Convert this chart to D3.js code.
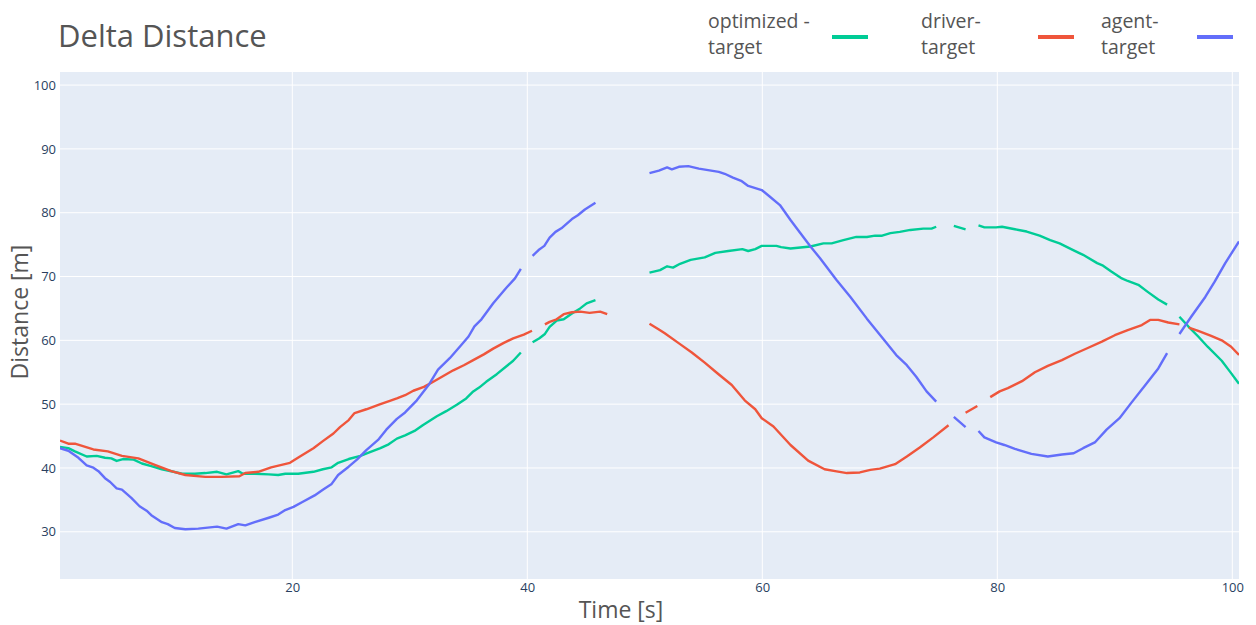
<!DOCTYPE html>
<html>
<head>
<meta charset="utf-8">
<script src="https://cdn.jsdelivr.net/npm/d3@7"></script>
<style>
  html, body { margin: 0; padding: 0; background: #fff; }
  svg { display: block; font-family: "Open Sans", "DejaVu Sans", sans-serif; }
</style>
</head>
<body>
<svg id="chart" width="1256" height="625"></svg>
<script>
// Time samples [s] and distances [m] per series; null marks missing samples.
const optTime = [0.23,0.94,1.5,2.5,3.35,4.06,4.6,5.05,5.6,6.5,7.2,8.0,8.9,9.9,10.6,11.7,12.6,13.6,14.4,15.4,15.8,16.8,18.0,18.8,19.4,20.5,21.8,22.6,23.35,23.9,24.8,25.8,26.5,27.5,28.2,28.9,29.6,30.4,31.1,32.3,33.1,34.0,34.8,35.4,35.9,36.5,37.4,38.2,38.8,39.45,39.9,40.45,41.0,41.5,41.9,42.5,43.1,43.8,44.5,45.05,45.8,48.0,50.4,51.3,51.9,52.4,53.0,53.9,55.1,56.0,57.1,58.3,58.8,59.4,59.95,61.2,61.6,62.4,64.1,65.2,65.9,66.9,68.0,68.9,69.6,70.2,70.9,71.7,72.6,73.7,74.4,74.8,75.5,76.3,77.3,77.8,78.4,78.9,79.9,80.4,81.5,82.5,83.6,84.5,85.3,86.5,87.3,88.5,89.0,89.7,90.6,91.1,92.0,92.8,93.7,94.45,95.0,95.5,96.25,97.1,97.9,99.1,99.8,100.57];
const optDist = [43.3,43.1,42.6,41.8,41.9,41.6,41.5,41.1,41.4,41.3,40.7,40.3,39.8,39.4,39.1,39.1,39.2,39.4,39.0,39.5,39.1,39.1,39.0,38.9,39.1,39.1,39.4,39.8,40.1,40.8,41.4,41.9,42.4,43.1,43.7,44.6,45.1,45.8,46.7,48.1,48.9,49.9,50.9,52.0,52.6,53.5,54.7,55.9,56.8,58.1,null,59.7,60.3,61.0,62.1,63.1,63.3,64.2,65.0,65.8,66.3,null,70.6,71.0,71.6,71.4,72.0,72.6,73.0,73.7,74.0,74.3,74.0,74.3,74.8,74.8,74.6,74.4,74.7,75.2,75.2,75.7,76.2,76.2,76.4,76.4,76.8,77.0,77.3,77.5,77.5,77.8,null,77.95,77.4,null,78.0,77.7,77.7,77.8,77.4,77.05,76.4,75.7,75.2,74.1,73.4,72.1,71.7,70.8,69.7,69.3,68.7,67.6,66.4,65.6,null,63.7,62.2,60.6,59.0,56.8,55.1,53.2];

const drvTime = [0.23,0.94,1.5,3.07,4.3,5.5,6.9,8.3,9.7,10.9,12.6,14.0,15.5,16.0,17.1,18.2,19.8,20.65,21.8,22.6,23.5,24.06,24.8,25.3,26.3,27.5,28.3,28.9,29.6,30.3,31.2,32.0,32.85,33.7,34.6,35.4,36.3,37.1,38.0,38.8,39.7,40.4,41.0,41.5,41.9,42.5,43.1,43.8,44.5,45.3,46.2,46.8,48.0,50.4,51.2,51.7,52.85,54.0,55.1,56.2,57.4,58.5,59.4,59.95,60.95,62.4,63.9,65.3,66.2,67.2,68.3,69.2,70.0,71.3,72.3,73.4,74.55,75.85,76.5,77.3,78.3,78.8,79.4,80.2,80.9,82.1,83.2,84.3,85.5,86.6,87.7,88.9,90.0,91.1,92.3,93.0,93.7,94.55,95.5,95.9,96.3,97.1,98.2,99.1,99.9,100.57];
const drvDist = [44.3,43.8,43.8,42.9,42.6,41.9,41.5,40.5,39.5,38.9,38.6,38.6,38.7,39.2,39.4,40.1,40.8,41.8,43.1,44.2,45.4,46.4,47.5,48.6,49.2,50.0,50.5,50.9,51.4,52.1,52.7,53.5,54.4,55.3,56.1,56.9,57.8,58.7,59.6,60.3,60.9,61.5,null,62.5,62.9,63.3,64.1,64.4,64.5,64.3,64.5,64.1,null,62.6,61.7,61.1,59.6,58.1,56.5,54.8,53.0,50.6,49.2,47.8,46.5,43.6,41.15,39.8,39.5,39.2,39.3,39.7,39.9,40.6,41.8,43.2,44.8,46.7,null,48.65,49.7,null,51.1,52.0,52.5,53.6,55.0,56.0,56.9,57.9,58.8,59.8,60.8,61.6,62.4,63.2,63.2,62.8,62.5,null,62.0,61.5,60.7,60.0,59.0,57.7];

const agtTime = [0.23,0.94,1.8,2.5,3.07,3.5,4.06,4.5,5.05,5.5,6.3,7.0,7.6,8.0,8.9,9.4,10.0,10.9,12.0,13.6,14.4,15.4,16.0,16.8,18.0,18.8,19.4,20.1,20.9,21.9,22.6,23.35,23.9,24.8,25.5,26.3,27.3,28.0,28.9,29.6,30.6,31.6,32.4,33.4,34.4,35.0,35.5,36.1,37.1,38.2,38.95,39.45,39.9,40.45,40.96,41.45,41.9,42.4,42.9,43.8,44.3,44.9,45.8,48.0,50.4,51.2,51.9,52.3,52.9,53.7,54.6,56.3,56.8,57.5,58.2,58.8,59.95,60.65,61.5,62.4,63.2,64.1,64.9,66.3,67.5,68.9,70.3,71.4,72.3,73.1,73.98,74.8,75.5,76.3,77.3,77.8,78.4,78.9,79.9,80.6,81.5,82.9,84.3,85.5,86.5,87.3,88.3,89.3,90.4,91.4,92.6,93.7,94.45,95.0,95.5,96.5,97.7,98.5,99.4,100.57];
const agtDist = [43.1,42.7,41.6,40.4,40.05,39.5,38.4,37.8,36.8,36.6,35.3,34.0,33.3,32.6,31.5,31.2,30.6,30.4,30.5,30.8,30.5,31.2,31.0,31.5,32.2,32.7,33.4,33.9,34.7,35.7,36.6,37.5,38.9,40.2,41.3,42.8,44.4,46.0,47.7,48.7,50.6,53.0,55.4,57.2,59.3,60.6,62.2,63.3,65.8,68.2,69.7,71.2,null,73.25,74.15,74.8,76.1,77.0,77.55,79.0,79.6,80.5,81.55,null,86.2,86.6,87.1,86.8,87.2,87.3,86.9,86.4,86.1,85.5,85.0,84.2,83.55,82.5,81.2,78.85,76.9,74.7,72.9,69.5,66.8,63.4,60.2,57.7,56.1,54.3,52.0,50.4,null,48.0,46.4,null,45.8,44.8,44.0,43.6,43.0,42.2,41.8,42.1,42.3,43.1,44.0,46.0,47.8,50.2,53.0,55.6,58.0,null,61.0,63.7,66.8,69.2,72.1,75.5];

const seriesNames = ["optimized -|target", "driver-|target", "agent-|target"];
const seriesColors = ["#00cc96", "#EF553B", "#636efa"];
const xTicks = [20, 40, 60, 80, 100];
const yTicks = [30, 40, 50, 60, 70, 80, 90, 100];

const series = [
  { name: seriesNames[0], color: seriesColors[0], t: optTime, v: optDist },
  { name: seriesNames[1], color: seriesColors[1], t: drvTime, v: drvDist },
  { name: seriesNames[2], color: seriesColors[2], t: agtTime, v: agtDist }
];

const svg = d3.select("#chart");
const plot = { left: 60, right: 1239, top: 72, bottom: 579 };

const x = d3.scaleLinear().domain([0.23, 100.57]).range([plot.left, plot.right]);
const y = d3.scaleLinear().domain([22.6, 102.05]).range([plot.bottom, plot.top]);

// plot background
svg.append("rect")
  .attr("x", plot.left).attr("y", plot.top)
  .attr("width", plot.right - plot.left).attr("height", plot.bottom - plot.top)
  .attr("fill", "#E5ECF6");

// grid lines
svg.append("g").selectAll("line").data(xTicks).join("line")
  .attr("x1", d => x(d)).attr("x2", d => x(d))
  .attr("y1", plot.top).attr("y2", plot.bottom)
  .attr("stroke", "#fff").attr("stroke-width", 1);
svg.append("g").selectAll("line").data(yTicks).join("line")
  .attr("x1", plot.left).attr("x2", plot.right)
  .attr("y1", d => y(d)).attr("y2", d => y(d))
  .attr("stroke", "#fff").attr("stroke-width", 1);

// axes (labels only)
const xAxis = d3.axisBottom(x).tickValues(xTicks).tickSize(0).tickPadding(4);
const yAxis = d3.axisLeft(y).tickValues(yTicks).tickSize(0).tickPadding(4);
const gx = svg.append("g").attr("transform", `translate(0,${plot.bottom})`).call(xAxis);
const gy = svg.append("g").attr("transform", `translate(${plot.left},0)`).call(yAxis);
[gx, gy].forEach(g => {
  g.select(".domain").remove();
  g.selectAll("text").attr("fill", "#2a3f5f").attr("font-size", 13)
    .attr("font-family", "'Open Sans', sans-serif");
});

// series lines
svg.append("clipPath").attr("id", "plotclip").append("rect")
  .attr("x", plot.left).attr("y", plot.top)
  .attr("width", plot.right - plot.left).attr("height", plot.bottom - plot.top);

const line = d3.line()
  .defined(d => d[1] !== null)
  .x(d => x(d[0]))
  .y(d => y(d[1]));

svg.append("g").attr("clip-path", "url(#plotclip)")
  .selectAll("path").data(series).join("path")
  .attr("d", s => line(s.t.map((t, i) => [t, s.v[i]])))
  .attr("fill", "none")
  .attr("stroke", s => s.color)
  .attr("stroke-width", 2.4)
  .attr("stroke-linejoin", "round")
  .attr("stroke-linecap", "butt");

// titles
svg.append("text").text("Delta Distance")
  .attr("x", 58).attr("y", 47)
  .attr("font-size", 31).attr("fill", "#555");

svg.append("text").text("Time [s]")
  .attr("x", 621).attr("y", 618)
  .attr("text-anchor", "middle")
  .attr("font-size", 23).attr("fill", "#555");

svg.append("text").text("Distance [m]")
  .attr("transform", "translate(28,312) rotate(-90)")
  .attr("text-anchor", "middle")
  .attr("font-size", 23).attr("fill", "#555");

// legend: two-line labels with the swatch to the right
const legendX = [708, 921, 1101];
const swatchX = [832, 1038, 1197];
const legend = svg.append("g").selectAll("g").data(series).join("g");
legend.each(function(s, i) {
  const g = d3.select(this);
  const parts = s.name.split("|");
  parts.forEach((p, k) => {
    g.append("text")
      .attr("x", legendX[i]).attr("y", 28 + k * 26)
      .attr("font-size", 19.5).attr("fill", "#555")
      .text(p);
  });
  g.append("line")
    .attr("x1", swatchX[i]).attr("x2", swatchX[i] + 36)
    .attr("y1", 37).attr("y2", 37)
    .attr("stroke", s.color).attr("stroke-width", 4);
});
</script>
</body>
</html>
